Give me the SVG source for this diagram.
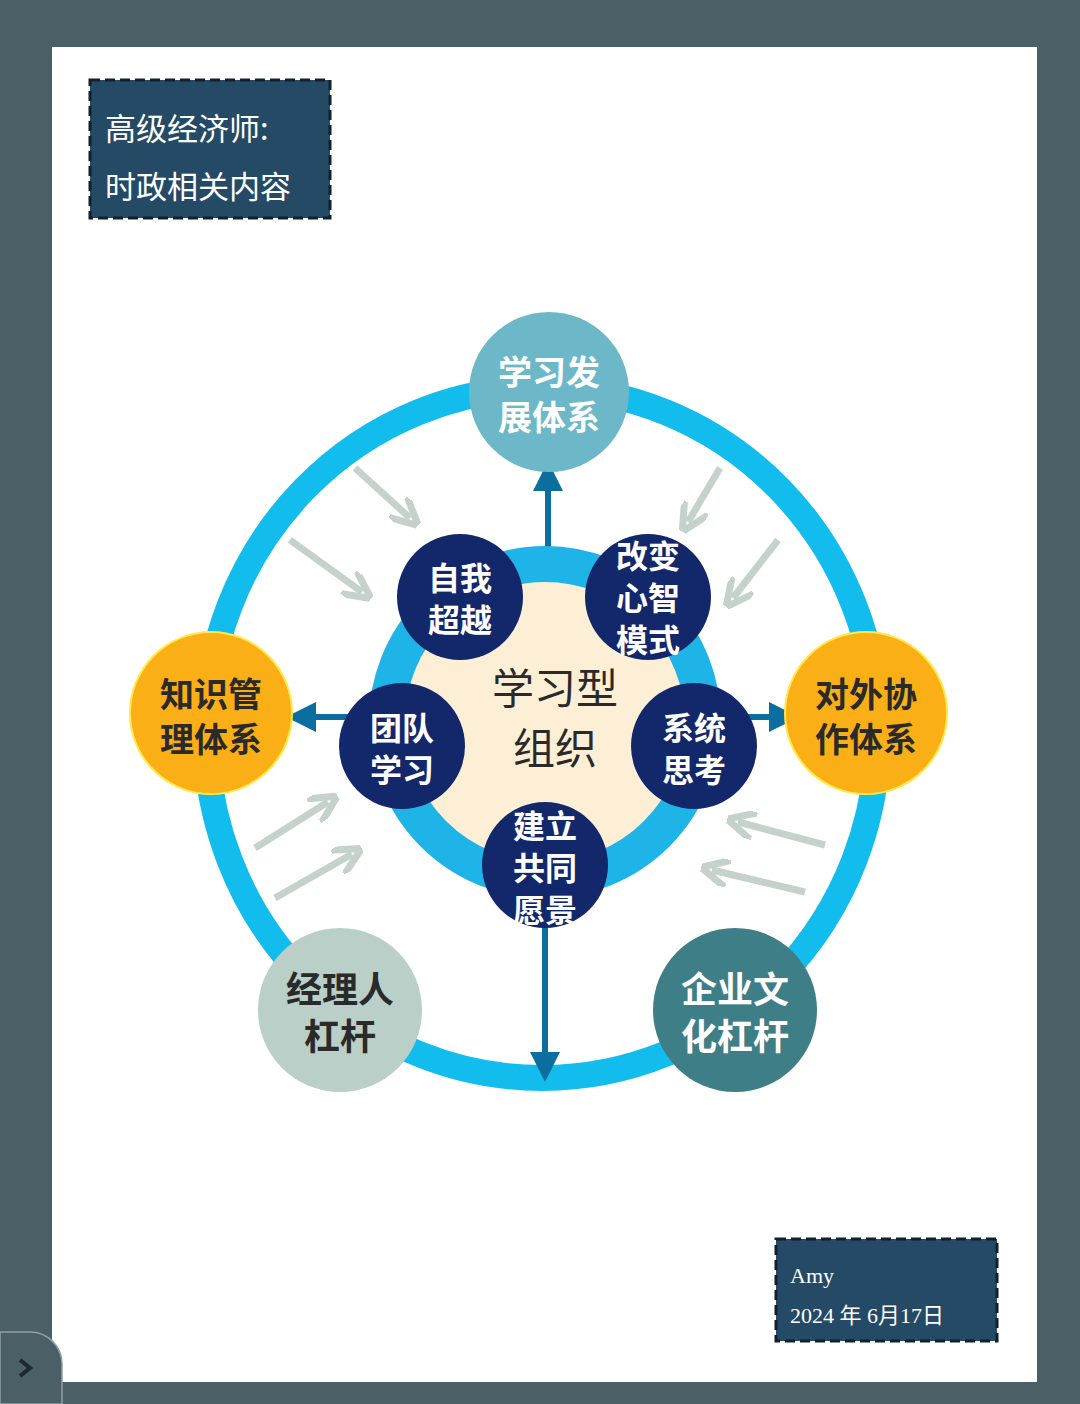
<svg xmlns="http://www.w3.org/2000/svg" width="1080" height="1404" viewBox="0 0 1080 1404">
<defs>
<style>
.t{font-family:"Noto Sans CJK SC","Noto Sans",sans-serif;font-weight:bold;text-anchor:middle}
.w{fill:#fff}.k{fill:#2a2a2a}
.ga{stroke:#C5D2CB;stroke-width:7;fill:none;marker-end:url(#mg)}
.ba{stroke:#0B6E9E;stroke-width:6;fill:none;marker-end:url(#mb)}
</style>
<marker id="mg" viewBox="0 0 10 10" refX="6" refY="5" markerWidth="4" markerHeight="4" orient="auto"><path d="M0,0 L10,5 L0,10" fill="none" stroke="#C5D2CB" stroke-width="2.5"/></marker>
<marker id="mb" viewBox="0 0 10 10" refX="2" refY="5" markerWidth="5" markerHeight="5" orient="auto"><path d="M0,0 L10,5 L0,10 z" fill="#0B6E9E"/></marker>
</defs>
<rect width="1080" height="1404" fill="#4A5F66"/>
<rect x="52" y="47" width="985" height="1335" fill="#fff"/>
<path d="M0,1332 H30 A32,32 0 0 1 62,1364 V1404 H0 Z" fill="#4A5F66" stroke="#8FA1A6" stroke-width="1.5"/>
<path d="M20,1360 L30,1368 L20,1376" fill="none" stroke="#1a2a30" stroke-width="4"/>
<g id="title">
<rect x="90" y="80" width="240" height="138" fill="#244A66" stroke="#10202c" stroke-width="3" stroke-dasharray="10,5"/>
<text x="105" y="140" font-family="Noto Sans CJK SC,serif" font-size="31" class="w">高级经济师:</text>
<text x="105" y="198" font-family="Noto Sans CJK SC,serif" font-size="31" class="w">时政相关内容</text>
</g>
<g id="footer">
<rect x="776" y="1239" width="221" height="102" fill="#244A66" stroke="#10202c" stroke-width="3" stroke-dasharray="10,5"/>
<text x="790" y="1283" font-family="Liberation Serif,serif" font-size="22" class="w">Amy</text>
<text x="790" y="1323" font-family="Liberation Serif,Noto Sans CJK SC,serif" font-size="22" class="w">2024 年 6月17日</text>
</g>
<ellipse id="ring" cx="542" cy="733" rx="336" ry="345" fill="none" stroke="#12BDEE" stroke-width="26"/>
<g id="connectors">
<path class="ga" d="M355,468 L410,518"/>
<path class="ga" d="M290,540 L362,592"/>
<path class="ga" d="M720,468 L688,522"/>
<path class="ga" d="M778,540 L733,598"/>
<path class="ga" d="M255,848 L328,802"/>
<path class="ga" d="M275,898 L352,854"/>
<path class="ga" d="M825,845 L738,822"/>
<path class="ga" d="M805,892 L712,870"/>
<path class="ba" d="M548,550 L548,485"/>
<path class="ba" d="M348,717 L310,717"/>
<path class="ba" d="M745,717 L775,717"/>
<path class="ba" d="M545,920 L545,1058"/>
</g>
<g id="center">
<circle cx="545" cy="722" r="158" fill="#FCEFD6" stroke="#1EB4E8" stroke-width="36"/>
<text x="555" y="704" font-size="42" class="t k" style="font-weight:normal">学习型</text>
<text x="555" y="764" font-size="42" class="t k" style="font-weight:normal">组织</text>
</g>
<g id="n-top"><circle cx="549" cy="392" r="80" fill="#6DB8C8"/>
<text x="549" y="385" font-size="34" class="t w">学习发</text><text x="549" y="430" font-size="34" class="t w">展体系</text></g>
<g id="n-left"><circle cx="211" cy="713" r="81" fill="#FBAF17" stroke="#FFE94A" stroke-width="2"/>
<text x="211" y="707" font-size="34" class="t k">知识管</text><text x="211" y="752" font-size="34" class="t k">理体系</text></g>
<g id="n-right"><circle cx="866" cy="713" r="81" fill="#FBAF17" stroke="#FFE94A" stroke-width="2"/>
<text x="866" y="707" font-size="34" class="t k">对外协</text><text x="866" y="752" font-size="34" class="t k">作体系</text></g>
<g id="n-bl"><circle cx="340" cy="1010" r="82" fill="#B9CFC7"/>
<text x="340" y="1003" font-size="36" class="t k">经理人</text><text x="340" y="1050" font-size="36" class="t k">杠杆</text></g>
<g id="n-br"><circle cx="735" cy="1010" r="82" fill="#3E7E86"/>
<text x="735" y="1003" font-size="36" class="t w">企业文</text><text x="735" y="1050" font-size="36" class="t w">化杠杆</text></g>
<g id="i1"><circle cx="460" cy="597" r="63" fill="#13276B"/>
<text x="460" y="590" font-size="32" class="t w">自我</text><text x="460" y="632" font-size="32" class="t w">超越</text></g>
<g id="i2"><circle cx="648" cy="597" r="63" fill="#13276B"/>
<text x="648" y="568" font-size="32" class="t w">改变</text><text x="648" y="610" font-size="32" class="t w">心智</text><text x="648" y="652" font-size="32" class="t w">模式</text></g>
<g id="i3"><circle cx="694" cy="746" r="63" fill="#13276B"/>
<text x="694" y="740" font-size="32" class="t w">系统</text><text x="694" y="782" font-size="32" class="t w">思考</text></g>
<g id="i4"><circle cx="545" cy="865" r="63" fill="#13276B"/>
<text x="545" y="838" font-size="32" class="t w">建立</text><text x="545" y="880" font-size="32" class="t w">共同</text><text x="545" y="922" font-size="32" class="t w">愿景</text></g>
<g id="i5"><circle cx="402" cy="746" r="63" fill="#13276B"/>
<text x="402" y="740" font-size="32" class="t w">团队</text><text x="402" y="782" font-size="32" class="t w">学习</text></g>
</svg>
